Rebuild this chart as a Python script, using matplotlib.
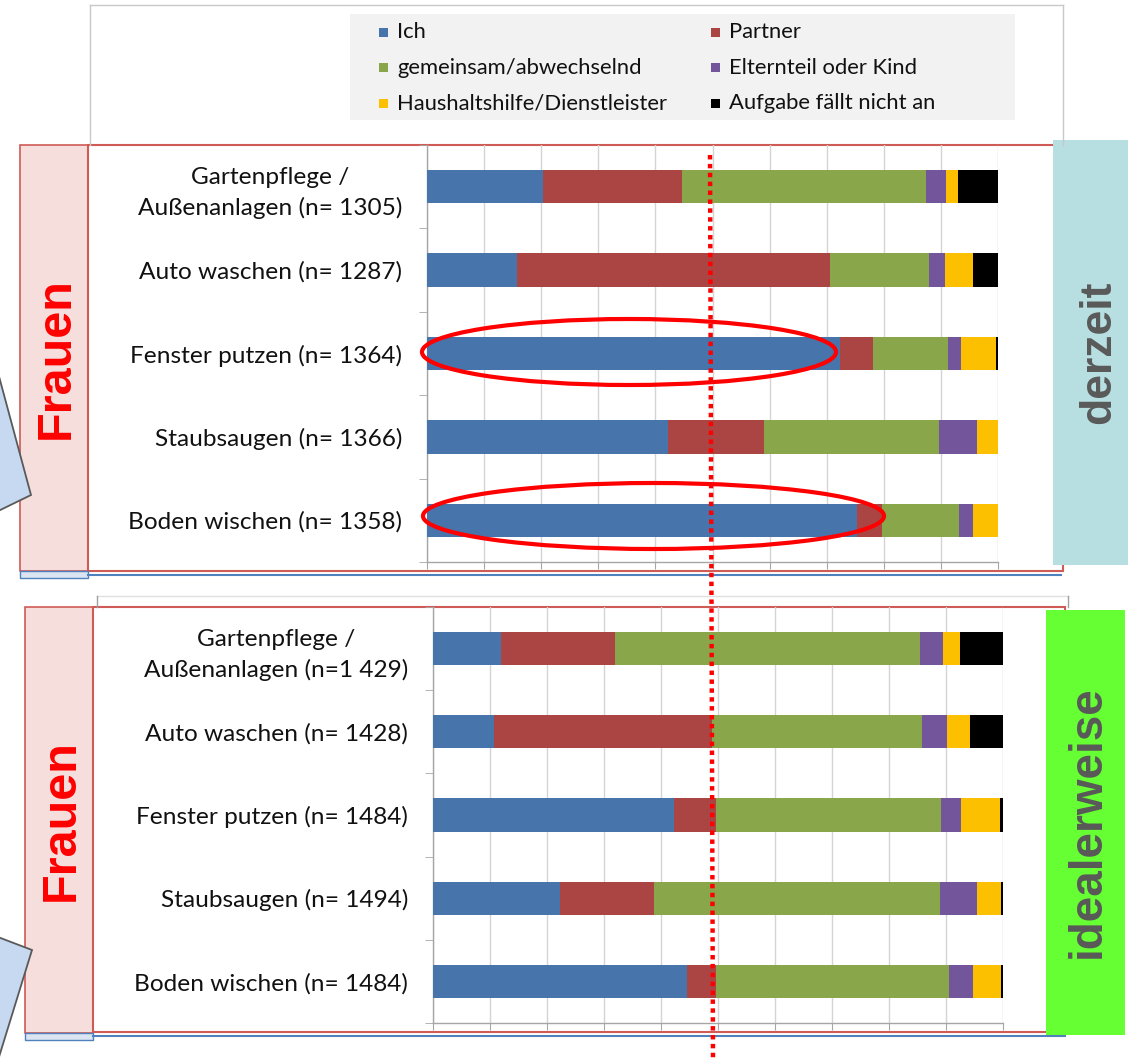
import matplotlib
matplotlib.use("Agg")
import matplotlib.pyplot as plt
from matplotlib.patches import Rectangle, Ellipse, Polygon
import numpy as np

W, H = 1128, 1058

series = ["Ich", "Partner", "gemeinsam/abwechselnd", "Elternteil oder Kind",
          "Haushaltshilfe/Dienstleister", "Aufgabe fällt nicht an"]
colors = ["#4674ab", "#ab4543", "#89a64b", "#72559b", "#fcc000", "#000000"]

cats_now = ["Gartenpflege /\nAußenanlagen (n= 1305)", "Auto waschen (n= 1287)",
            "Fenster putzen (n= 1364)", "Staubsaugen (n= 1366)", "Boden wischen (n= 1358)"]
cats_ideal = ["Gartenpflege /\nAußenanlagen (n=1 429)", "Auto waschen (n= 1428)",
              "Fenster putzen (n= 1484)", "Staubsaugen (n= 1494)", "Boden wischen (n= 1484)"]

# Percentages (derzeit)
ich_now = [20.3, 15.8, 72.4, 42.2, 75.3]
partner_now = [24.4, 54.8, 5.7, 16.8, 4.3]
gemeinsam_now = [42.7, 17.3, 13.1, 30.7, 13.6]
eltern_now = [3.5, 2.9, 2.4, 6.7, 2.4]
hilfe_now = [2.1, 4.8, 6.1, 3.6, 4.4]
entfaellt_now = [7.0, 4.4, 0.3, 0.0, 0.0]

# Percentages (idealerweise)
ich_ideal = [11.9, 10.7, 42.3, 22.2, 44.5]
partner_ideal = [20.0, 38.3, 7.4, 16.5, 5.1]
gemeinsam_ideal = [53.6, 36.8, 39.4, 50.2, 40.9]
eltern_ideal = [4.0, 4.4, 3.6, 6.5, 4.3]
hilfe_ideal = [3.0, 4.0, 6.7, 4.2, 4.8]
entfaellt_ideal = [7.5, 5.8, 0.6, 0.4, 0.4]

LABEL_FONT = ["Lato", "DejaVu Sans"]
BOLD_FONT = ["Liberation Sans", "DejaVu Sans"]

fig = plt.figure(figsize=(W / 100, H / 100), dpi=100)


def frect(x0, y0, x1, y1):
    return [x0 / W, 1 - y1 / H, (x1 - x0) / W, (y1 - y0) / H]


# ---------- background layer ----------
bg = fig.add_axes([0, 0, 1, 1], zorder=0)
bg.set_xlim(0, W)
bg.set_ylim(H, 0)
bg.axis("off")

# top chart container (gray)
bg.plot([90, 1063], [5, 5], color="#c8c8c8", lw=1)
bg.plot([90, 90], [5, 145], color="#c8c8c8", lw=1)
bg.plot([1063, 1063], [5, 145], color="#c8c8c8", lw=1)
# legend background + entries
bg.add_patch(Rectangle((350, 14), 665, 106, facecolor="#f2f2f2", edgecolor="none"))
for i, (name, col) in enumerate(zip(series, colors)):
    row, c = i // 2, i % 2
    cy = 32 + row * 35.5
    mx = 383 if c == 0 else 715
    tx = 397 if c == 0 else 729
    bg.add_patch(Rectangle((mx - 4.5, cy - 4.5), 9, 9, facecolor=col, edgecolor="none"))
    bg.text(tx, cy, name, fontsize=15.8, family=LABEL_FONT, va="center", ha="left", color="#111111")

# top red box and Frauen panel
bg.add_patch(Rectangle((20, 145), 68, 426, facecolor="#f6dedc", edgecolor="#d05a56", lw=1.2))
bg.add_patch(Rectangle((88, 145), 975, 426, facecolor="white", edgecolor="#d05a56", lw=1.5))
bg.add_patch(Rectangle((20, 571), 68, 7, facecolor="#dbe5f1", edgecolor="#4f81bd", lw=1))
bg.plot([88, 1061], [575, 575], color="#4f81bd", lw=1.5)
bg.add_patch(Rectangle((1053, 140), 75, 425, facecolor="#b7dee1", edgecolor="none"))
bg.text(56, 358, "Frauen", rotation=90, color="#ff0000", fontsize=35, fontweight="bold",
        family=BOLD_FONT, ha="center", va="center")
bg.text(1099, 352, "derzeit", rotation=90, color="#595959", fontsize=32, fontweight="bold",
        family=BOLD_FONT, ha="center", va="center")

# bottom chart container
bg.plot([97, 1068], [596, 596], color="#e0e0e0", lw=1)
bg.plot([97, 97], [596, 607], color="#a0a0a0", lw=1)
bg.plot([1068, 1068], [596, 607], color="#a0a0a0", lw=1)
bg.add_patch(Rectangle((25, 607), 68, 426, facecolor="#f6dedc", edgecolor="#d05a56", lw=1.2))
bg.add_patch(Rectangle((93, 607), 972, 425, facecolor="white", edgecolor="#d05a56", lw=1.5))
bg.add_patch(Rectangle((25, 1033), 68, 7, facecolor="#dbe5f1", edgecolor="#4f81bd", lw=1))
bg.plot([93, 1065], [1036, 1036], color="#4f81bd", lw=1.5)
bg.add_patch(Rectangle((1046, 610), 79, 425, facecolor="#66ff33", edgecolor="none"))
bg.text(61, 820, "Frauen", rotation=90, color="#ff0000", fontsize=35, fontweight="bold",
        family=BOLD_FONT, ha="center", va="center")
bg.text(1088, 822, "idealerweise", rotation=90, color="#595959", fontsize=33, fontweight="bold",
        family=BOLD_FONT, ha="center", va="center")

# callout shapes at left edge
bg.add_patch(Polygon([(-10, 343), (31, 495), (-10, 515)], closed=True,
                     facecolor="#c6d9f1", edgecolor="#595959", lw=1.3))
bg.add_patch(Polygon([(-10, 934), (32, 950), (-5, 1070), (-10, 1070)], closed=True,
                     facecolor="#c6d9f1", edgecolor="#595959", lw=1.3))


# ---------- chart axes ----------
def draw_chart(rect, cats, data, pad):
    ax = fig.add_axes(rect, zorder=2)
    ax.patch.set_alpha(0)
    y = np.arange(len(cats))
    left = np.zeros(len(cats))
    for vals, col, name in zip(data, colors, series):
        v = np.array(vals)
        ax.barh(y, v, left=left, height=0.4, color=col, label=name, zorder=3, linewidth=0)
        left += v
    ax.set_xlim(0, 100)
    ax.set_ylim(len(cats) - 0.5, -0.5)
    ax.set_xticks(np.arange(0, 101, 10))
    ax.set_xticklabels([])
    ax.grid(axis="x", color="#d4d4d4", lw=1, zorder=0)
    ax.set_axisbelow(True)
    ax.tick_params(axis="x", length=5, color="#a6a6a6", direction="out")
    ax.set_yticks(y)
    ax.set_yticklabels(cats, fontsize=17.6, family=LABEL_FONT, color="#111111",
                       multialignment="center", linespacing=1.5)
    ax.tick_params(axis="y", which="major", length=0, pad=pad)
    ax.set_yticks(np.arange(-0.5, len(cats)), minor=True)
    ax.tick_params(axis="y", which="minor", length=6, color="#a6a6a6", direction="out")
    for s in ["top", "right"]:
        ax.spines[s].set_visible(False)
    for s in ["left", "bottom"]:
        ax.spines[s].set_color("#a6a6a6")
        ax.spines[s].set_linewidth(1)
    return ax


data_now = [ich_now, partner_now, gemeinsam_now, eltern_now, hilfe_now, entfaellt_now]
data_ideal = [ich_ideal, partner_ideal, gemeinsam_ideal, eltern_ideal, hilfe_ideal, entfaellt_ideal]
draw_chart(frect(427, 145, 998, 562), cats_now, data_now, pad=18)
draw_chart(frect(433, 607, 1003, 1023), cats_ideal, data_ideal, pad=18)

# ---------- overlay annotations ----------
ov = fig.add_axes([0, 0, 1, 1], zorder=5)
ov.patch.set_alpha(0)
ov.set_xlim(0, W)
ov.set_ylim(H, 0)
ov.axis("off")
ov.add_patch(Ellipse((629, 352), 414, 66, facecolor="none", edgecolor="#ff0000", lw=3))
ov.add_patch(Ellipse((653.5, 516), 461, 66, facecolor="none", edgecolor="#ff0000", lw=3))
ov.plot([710, 713], [155, 1058], color="#ff0000", lw=3.2, linestyle=(0, (1, 1)))

fig.savefig("out.png", dpi=100)
